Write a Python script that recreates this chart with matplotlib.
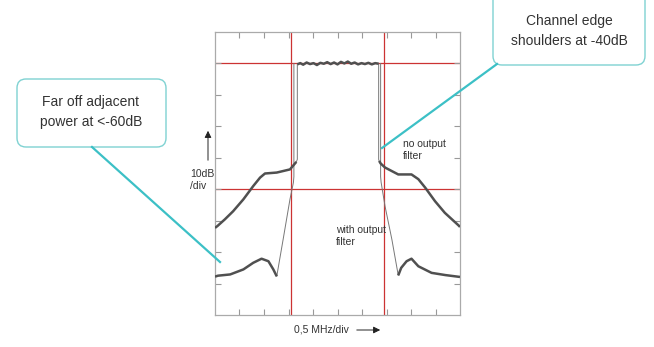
import numpy as np
import matplotlib.pyplot as plt
from matplotlib.patches import FancyBboxPatch

plt.rcParams['font.family'] = ['Liberation Sans', 'DejaVu Sans']

# spectrum traces, x in MHz from centre, y in dB (0 at top of screen)
top_mhz = [-0.82, -0.76, -0.70, -0.63, -0.56, -0.49, -0.42, -0.35, -0.28, -0.21, -0.14,
           -0.07, 0.00, 0.07, 0.14, 0.21, 0.28, 0.35, 0.42, 0.49, 0.56, 0.63,
           0.70, 0.77, 0.84]
top_db = [-10.3, -9.9, -10.4, -9.7, -10.2, -9.9, -10.5, -9.8, -10.1, -9.6, -10.2,
          -9.7, -10.3, -9.5, -10.0, -9.4, -10.1, -9.7, -10.3, -9.9, -10.2, -9.8,
          -10.3, -9.9, -10.1]

# no output filter
nf_left_mhz = [-2.50, -2.45, -2.30, -2.13, -1.92, -1.72, -1.58, -1.48, -1.24, -0.97, -0.84]
nf_left_db = [-62.3, -61.7, -59.6, -57.0, -53.2, -49.0, -46.3, -45.0, -44.7, -43.7, -41.3]
nf_right_mhz = [0.85, 0.88, 0.97, 1.24, 1.51, 1.65, 1.79, 1.99, 2.19, 2.47, 2.50]
nf_right_db = [-41.0, -41.8, -43.1, -45.3, -45.3, -46.8, -49.5, -53.8, -57.5, -61.5, -62.0]
nf_edge_left_mhz = [-0.82, -0.82, -0.84]
nf_edge_left_db = [-10.0, -40.5, -41.3]
nf_edge_right_mhz = [0.84, 0.84, 0.85]
nf_edge_right_db = [-10.0, -40.5, -41.0]

# with output filter
wf_left_mhz = [-2.50, -2.44, -2.19, -1.92, -1.72, -1.55, -1.41, -1.31, -1.24]
wf_left_db = [-77.8, -77.5, -77.1, -75.5, -73.4, -72.1, -72.9, -75.5, -77.7]
wf_right_mhz = [1.24, 1.30, 1.41, 1.51, 1.65, 1.92, 2.20, 2.40, 2.50]
wf_right_db = [-77.4, -75.0, -72.9, -72.1, -74.5, -76.6, -77.3, -77.7, -77.9]
wf_edge_left_mhz = [-1.24, -1.11, -0.97, -0.90, -0.89, -0.89]
wf_edge_left_db = [-77.7, -66.0, -53.2, -47.9, -46.0, -10.0]
wf_edge_right_mhz = [0.88, 0.88, 0.89, 0.97, 1.11, 1.24]
wf_edge_right_db = [-10.0, -46.0, -47.8, -55.4, -66.0, -77.4]

# red reference lines
ref_mhz = [-0.95, 0.95]
ref_db = [-10, -50]

fig = plt.figure(figsize=(6.54, 3.47), dpi=100)
ax = fig.add_axes([215 / 654, 32 / 347, 245 / 654, 283 / 347])
ax.set_xlim(-2.5, 2.5)
ax.set_ylim(-90, 0)
ax.set_xticks(np.arange(-2.0, 2.01, 0.5))
ax.set_yticks(np.arange(-80, -9, 10))
ax.tick_params(direction='in', length=4, width=0.8, color='#999999',
               top=True, right=True, labelbottom=False, labelleft=False)
for s in ax.spines.values():
    s.set_color('#aaaaaa')
    s.set_linewidth(0.9)

for x in ref_mhz:
    ax.axvline(x, color='#cc3333', lw=0.9, zorder=1)
for y in ref_db:
    ax.axhline(y, color='#cc3333', lw=0.9, zorder=1)

thin = dict(color='#777777', lw=0.7, zorder=2)
thick = dict(color='#505050', lw=1.8, zorder=3, solid_capstyle='butt')
ax.plot(nf_edge_left_mhz, nf_edge_left_db, **thin)
ax.plot(nf_edge_right_mhz, nf_edge_right_db, **thin)
ax.plot(wf_edge_left_mhz, wf_edge_left_db, **thin)
ax.plot(wf_edge_right_mhz, wf_edge_right_db, **thin)
ax.plot(top_mhz, top_db, **thick)
ax.plot(nf_left_mhz, nf_left_db, **thick)
ax.plot(nf_right_mhz, nf_right_db, **thick)
ax.plot(wf_left_mhz, wf_left_db, **thick)
ax.plot(wf_right_mhz, wf_right_db, **thick)

# overlay in pixel coordinates for labels and callouts
ov = fig.add_axes([0, 0, 1, 1], facecolor='none')
ov.set_xlim(0, 654)
ov.set_ylim(347, 0)
ov.axis('off')

txt = '#333333'
ov.text(403, 150, 'no output\nfilter', fontsize=7.5, color=txt, va='center', ha='left', linespacing=1.35)
ov.text(336, 236, 'with output\nfilter', fontsize=7.5, color=txt, va='center', ha='left', linespacing=1.35)
ov.text(190, 180, '10dB\n/div', fontsize=7.5, color=txt, va='center', ha='left', linespacing=1.35)
ov.text(294, 330, '0,5 MHz/div', fontsize=7.5, color=txt, va='center', ha='left')
ov.annotate('', xy=(208, 128), xytext=(208, 163),
            arrowprops=dict(arrowstyle='-|>', color='#222222', lw=0.7, mutation_scale=10))
ov.annotate('', xy=(383, 330), xytext=(354, 330),
            arrowprops=dict(arrowstyle='-|>', color='#222222', lw=0.7, mutation_scale=10))

teal = '#3cc0c6'
ov.plot([92, 220], [147, 262], color=teal, lw=1.6)
ov.plot([497, 382], [64, 148], color=teal, lw=1.6)

box1 = FancyBboxPatch((22, 84), 139, 58, boxstyle='round,pad=5,rounding_size=9',
                      fc='white', ec='#7fd2d2', lw=1.0)
ov.add_patch(box1)
ov.text(91, 112, 'Far off adjacent\npower at <-60dB', fontsize=10, color=txt,
        ha='center', va='center', linespacing=1.5)

box2 = FancyBboxPatch((498, -4), 142, 64, boxstyle='round,pad=5,rounding_size=9',
                      fc='white', ec='#7fd2d2', lw=1.0)
ov.add_patch(box2)
ov.text(569, 31, 'Channel edge\nshoulders at -40dB', fontsize=10, color=txt,
        ha='center', va='center', linespacing=1.5)

fig.savefig('out.png', dpi=100, facecolor='white')
